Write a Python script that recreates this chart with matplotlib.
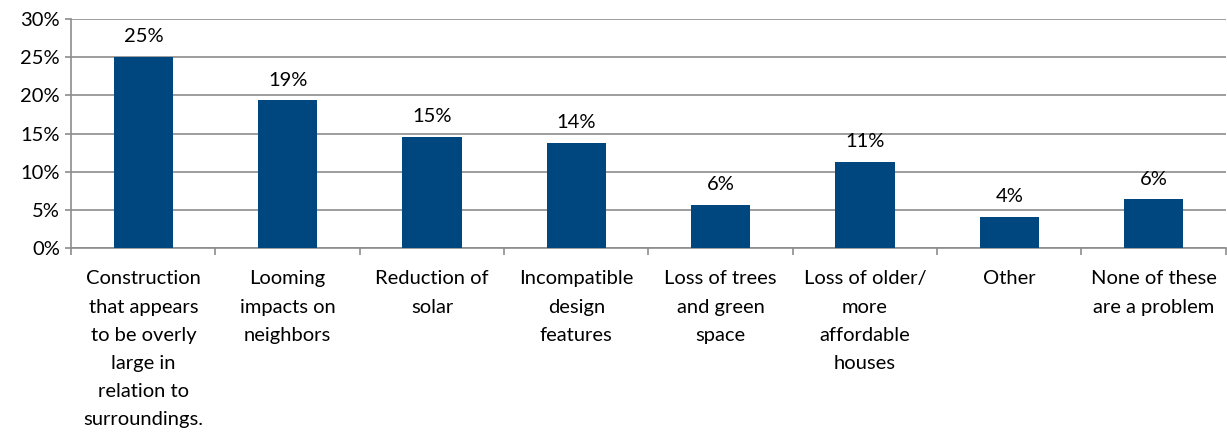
import matplotlib.pyplot as plt
from matplotlib.ticker import PercentFormatter
import numpy as np

plt.rcParams['font.family'] = ['Lato', 'DejaVu Sans']

categories = ["Construction\nthat appears\nto be overly\nlarge in\nrelation to\nsurroundings.",
              "Looming\nimpacts on\nneighbors",
              "Reduction of\nsolar",
              "Incompatible\ndesign\nfeatures",
              "Loss of trees\nand green\nspace",
              "Loss of older/\nmore\naffordable\nhouses",
              "Other",
              "None of these\nare a problem"]
shares = [25.1, 19.4, 14.6, 13.8, 5.7, 11.3, 4.1, 6.4]

bar_color = "#00467f"
grid_color = "#8c8c8c"

fig = plt.figure(figsize=(12.27, 4.36), dpi=100)
ax = fig.add_axes([0.058, 0.431, 0.941, 0.525])

x = np.arange(len(categories))
bars = ax.bar(x, shares, width=0.41, color=bar_color, zorder=3)
for b, v in zip(bars, shares):
    ax.text(b.get_x() + b.get_width() / 2, v + 1.5, f"{v:.0f}%",
            ha="center", va="bottom", fontsize=14.5)

ax.set_xlim(-0.5, len(categories) - 0.5)
ax.set_ylim(0, 30)
ax.set_yticks(np.arange(0, 31, 5))
ax.yaxis.set_major_formatter(PercentFormatter(decimals=0))
ax.grid(axis="y", color=grid_color, linewidth=1.2, zorder=0)

ax.set_xticks(x)
ax.set_xticklabels(categories, fontsize=14.5, linespacing=1.8)
ax.set_xticks(np.arange(-0.5, len(categories)), minor=True)
ax.tick_params(axis="x", which="major", length=0, pad=16)
ax.tick_params(axis="x", which="minor", length=5, color=grid_color, width=1.2)
ax.tick_params(axis="y", length=4, color=grid_color, width=1.2, labelsize=14.5, pad=4)

for side in ("top", "right"):
    ax.spines[side].set_visible(False)
for side in ("left", "bottom"):
    ax.spines[side].set_color(grid_color)
    ax.spines[side].set_linewidth(1.2)

fig.savefig("out.png", dpi=100)
